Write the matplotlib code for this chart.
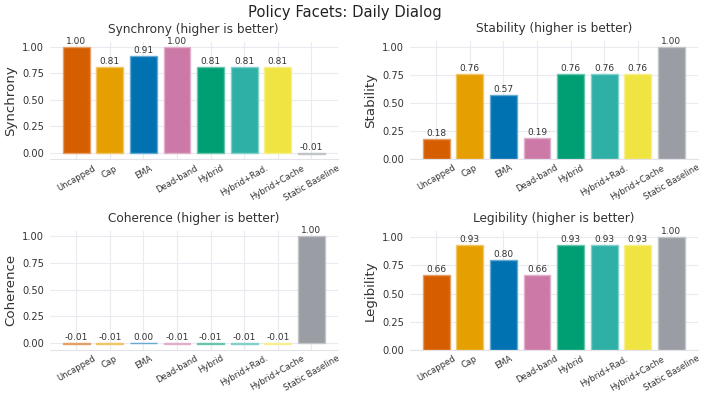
import matplotlib
matplotlib.use("Agg")
import matplotlib.pyplot as plt
from matplotlib.colors import to_rgb

categories = ["Uncapped", "Cap", "EMA", "Dead-band", "Hybrid", "Hybrid+Rad.", "Hybrid+Cache", "Static Baseline"]
colors = ["#D55E00", "#E69F00", "#0072B2", "#CC79A7", "#009E73", "#2FB0A6", "#F0E442", "#9A9EA4"]

synchrony = [1.00, 0.81, 0.91, 1.00, 0.81, 0.81, 0.81, -0.01]
stability = [0.18, 0.76, 0.57, 0.19, 0.76, 0.76, 0.76, 1.00]
coherence = [-0.01, -0.01, 0.00, -0.01, -0.01, -0.01, -0.01, 1.00]
legibility = [0.66, 0.93, 0.80, 0.66, 0.93, 0.93, 0.93, 1.00]

panels = [
    ("Synchrony", synchrony),
    ("Stability", stability),
    ("Coherence", coherence),
    ("Legibility", legibility),
]

W, H = 707, 398
fig = plt.figure(figsize=(W / 100, H / 100), dpi=100)
fig.patch.set_facecolor("white")

# axes boxes in pixels: left, top, right, bottom
boxes = [
    (49.6, 41.6, 338.0, 159.4),
    (409.6, 41.4, 698.0, 159.0),
    (49.6, 230.6, 338.0, 349.5),
    (409.6, 231.4, 698.0, 350.0),
]

text_color = "#333333"
grid_color = "#EAEAF0"

def lighten(c, f=0.4):
    r, g, b = to_rgb(c)
    return (r + (1 - r) * f, g + (1 - g) * f, b + (1 - b) * f)

edge_colors = [lighten(c) for c in colors]

for (name, vals), (l, t, r, b) in zip(panels, boxes):
    ax = fig.add_axes([l / W, 1 - b / H, (r - l) / W, (b - t) / H])
    ax.set_facecolor("white")
    x = list(range(len(categories)))
    ax.bar(x, vals, color=colors, edgecolor=edge_colors, linewidth=1.0, width=0.8, zorder=2)
    for xi, v in zip(x, vals):
        ax.text(xi, max(v, 0) + 0.01, f"{v:.2f}", ha="center", va="bottom",
                fontsize=6.5, color="#333333", zorder=3)
    ax.set_xticks(x)
    ax.set_xticklabels(categories, rotation=30, ha="center",
                       fontsize=6.0, color=text_color)
    ax.set_yticks([0, 0.25, 0.5, 0.75, 1.0])
    ax.set_yticklabels(["0.00", "0.25", "0.50", "0.75", "1.00"])
    ax.tick_params(axis="y", labelsize=7.1, colors=text_color, length=0, pad=4)
    ax.tick_params(axis="x", length=0, pad=3)
    ax.set_ylabel(name, fontsize=9.6, color=text_color, labelpad=3.5)
    ax.set_title(f"{name} (higher is better)", fontsize=8.7, color=text_color, pad=6.5)
    ax.grid(True, color=grid_color, linewidth=0.8, zorder=0)
    ax.set_axisbelow(True)
    for s in ["top", "right", "left"]:
        ax.spines[s].set_visible(False)
    ax.spines["bottom"].set_color("#E2E2E8")
    ax.spines["bottom"].set_linewidth(0.8)

fig.text(344.5 / W, 1 - 12 / H, "Policy Facets: Daily Dialog", ha="center", va="center",
         fontsize=10.6, color="#222222")

fig.savefig("out.png", dpi=100)
